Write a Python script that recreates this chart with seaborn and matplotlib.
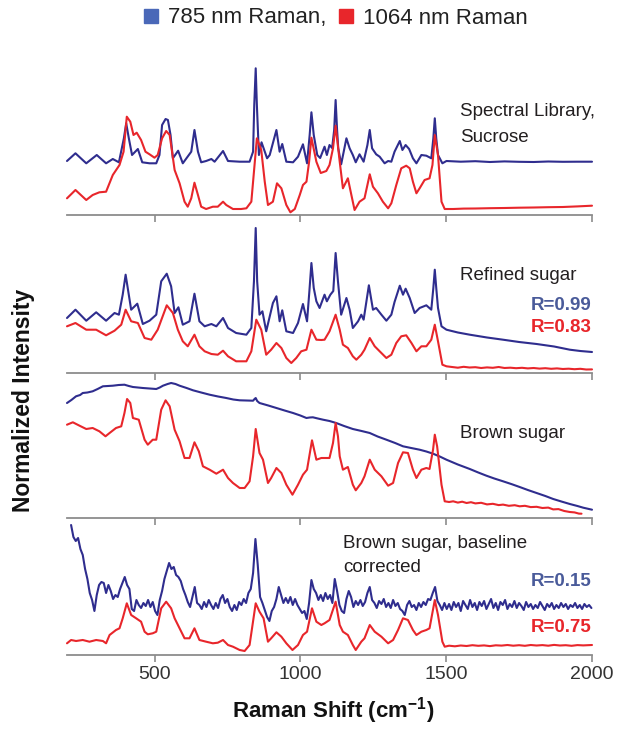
import numpy as np
import pandas as pd
import matplotlib
matplotlib.use("Agg")
import matplotlib.pyplot as plt
import seaborn as sns
from matplotlib.lines import Line2D

# ---------------- data (Raman shift cm-1, intensity a.u.) ----------------
LEGEND_LABELS = ["785 nm Raman,", "1064 nm Raman"]
PANEL_TITLES = [["Spectral Library,", "Sucrose"], ["Refined sugar"], ["Brown sugar"],
                ["Brown sugar, baseline", "corrected"]]
R_785 = [None, "R=0.99", None, "R=0.15"]
R_1064 = [None, "R=0.83", None, "R=0.75"]
XTICKS = [500, 1000, 1500, 2000]

P1_785 = [(200,54),(229,61.7),(266,51.7),(302,60),(334,51.7),(357,56),(378,52.7),(395,76.7),(403,91.7),(412,76.7),(423,60),(443,66),(458,52.7),(483,51.7),(506,51.7),(517,60),(526,90),(538,96),(546,95),(555,80),(563,56.7),(581,64.3),(597,51.7),(626,63.3),(637,85),(649,63.3),(660,52.7),(677,54),(695,56),(706,53.3),(735,64),(752,54),(792,53.3),(826,53.3),(838,63.3),(842,110),(847,146.7),(851,110),(858,60),(867,72.7),(886,56.7),(895,60),(918,85),(929,63.3),(938,71),(952,53.3),(975,52.7),(992,58.3),(1009,70.7),(1023,51.7),(1032,80),(1038,102.7),(1046,80),(1058,60),(1068,57),(1083,68.3),(1091,60),(1100,70),(1109,67),(1116,85),(1121,115),(1126,85),(1130,66.7),(1140,50.7),(1158,76.7),(1169,66.7),(1180,60),(1190,52.7),(1203,60.7),(1217,53.3),(1230,70),(1238,85),(1246,66.7),(1260,60.7),(1272,58.3),(1289,51.7),(1301,54),(1312,53.3),(1323,63.3),(1341,74),(1350,65),(1361,70),(1373,66),(1386,56.7),(1398,51.7),(1415,60),(1432,59.3),(1449,56.7),(1456,76.7),(1461,96.7),(1466,76.7),(1472,60),(1487,51.7),(1501,54),(1550,53.3),(1600,53.8),(1650,53),(1700,53.6),(1750,53.2),(1800,53),(1850,53.5),(1900,53.2),(1950,53.3),(2000,53.3)]

P1_1064 = [(200,16.7),(229,25),(266,15),(288,20),(311,22.7),(334,23.3),(357,40),(380,50),(394,63.3),(405,98.3),(417,93.3),(428,80),(439,82.3),(454,75),(469,63.3),(483,60.7),(500,57.3),(511,60),(526,76.7),(540,84),(552,80),(569,45),(586,31.7),(603,13.3),(614,8.3),(626,16.7),(637,32.3),(649,20),(660,8.3),(677,6),(700,8.3),(717,8.3),(735,13.3),(746,10),(769,6),(797,6),(815,6.7),(832,13.3),(843,50),(851,76.7),(866,65),(878,33.3),(889,10),(906,13.3),(920,31.7),(935,26.7),(952,10),(966,2.7),(981,6),(998,20),(1009,30),(1021,33.3),(1030,53),(1038,77.3),(1055,53.3),(1070,42),(1089,44),(1100,50),(1112,66.7),(1121,89.3),(1135,53.3),(1146,26.7),(1163,36.7),(1175,20),(1186,5),(1203,13.3),(1220,16.7),(1238,40.7),(1249,28.3),(1266,21.7),(1283,13.3),(1301,6.7),(1312,11.7),(1329,30),(1346,46.7),(1363,49.3),(1375,46.7),(1386,33.3),(1398,21.7),(1409,26.7),(1426,35),(1443,36.7),(1453,50),(1461,80),(1472,60),(1484,13.3),(1495,6),(1524,6),(1560,6.4),(1600,6.5),(1650,6.8),(1700,7),(1750,7.3),(1800,7.5),(1850,7.8),(1900,8),(1950,8.6),(2000,9.3)]

P2_785 = [(200,55),(229,63.3),(266,52.3),(300,60.7),(334,52.3),(363,60),(378,58.3),(391,78.3),(401,98.3),(410,81.7),(420,63.3),(441,69.3),(460,49),(483,52.3),(506,58.3),(523,91.7),(542,99.3),(557,86.7),(569,60),(582,65.7),(597,48.3),(620,51.7),(637,79.3),(654,51.7),(672,46.7),(695,49),(712,46.7),(735,55),(752,45),(780,40),(815,38.3),(832,45),(841,91.7),(847,145),(852,91.7),(860,58.3),(870,61.7),(883,41.7),(906,70),(918,76.7),(929,51.7),(938,62.7),(952,41.7),(975,40),(992,50),(1009,69),(1023,51.7),(1031,81.7),(1038,110),(1046,85),(1055,71.7),(1066,65),(1083,78.3),(1091,71.7),(1103,78.3),(1113,82),(1121,120),(1129,91.7),(1140,58.3),(1158,75),(1169,63.3),(1180,45),(1198,51.7),(1209,58.3),(1217,53.3),(1235,87.7),(1249,63.3),(1260,65),(1278,58.3),(1295,52.3),(1312,58.3),(1323,71),(1341,87.3),(1352,78.3),(1361,84.3),(1375,75),(1392,60),(1409,65),(1432,67.7),(1449,63.3),(1456,85),(1461,103.3),(1466,85),(1472,65),(1484,46.7),(1501,43.3),(1540,40.5),(1581,38.3),(1640,35.5),(1695,33.3),(1750,31),(1810,29),(1870,26.5),(1924,23.3),(1960,22),(2000,21)]

P2_1064 = [(200,46.7),(229,50),(266,43.3),(300,43.3),(334,37.7),(363,42.3),(386,48.3),(401,63.3),(420,51.7),(443,50),(466,35),(489,33.3),(511,43.3),(542,67.7),(563,60),(580,43.3),(597,31.7),(614,26.7),(637,38.3),(654,26.7),(672,21.7),(695,19),(717,18.3),(735,22.3),(752,16.7),(780,11.7),(815,11.7),(832,21.7),(849,53.3),(866,43.3),(883,18.3),(900,23.3),(918,30),(935,25),(952,15),(969,10),(986,15),(1003,21.7),(1021,23.3),(1038,43.3),(1055,33.3),(1072,33),(1083,33.3),(1100,41.7),(1121,58.3),(1135,43.3),(1146,28.3),(1163,25),(1180,16.7),(1192,13.3),(1209,18.3),(1220,23.3),(1238,35),(1255,26.7),(1272,21.7),(1295,15),(1312,18.3),(1329,30),(1346,36.7),(1363,37.7),(1381,30),(1398,21.7),(1415,26.7),(1432,26.7),(1449,33.3),(1461,48.3),(1472,31.7),(1487,8.3),(1501,6.7),(1520,6.0),(1540,5.3),(1560,6.2),(1580,5.5),(1600,5.8),(1620,5.0),(1640,5.6),(1660,5.2),(1680,6.0),(1700,5.0),(1720,5.3),(1740,4.8),(1760,5.2),(1780,4.6),(1800,5.0),(1820,4.4),(1840,4.8),(1860,4.2),(1880,4.6),(1900,4.0),(1920,4.3),(1940,3.8),(1960,4.2),(1980,3.5),(2000,3.6)]

P3_785 = [(200,115),(215,118),(231,121.7),(245,123),(254,125),(270,125.5),(288,126.7),(305,129),(323,131.7),(340,132),(357,132.3),(377,133),(397,133.3),(412,132),(426,131),(443,130.5),(460,130),(483,129.5),(506,129),(518,130.5),(529,132.3),(545,134),(557,135),(572,134),(586,132.3),(610,130),(632,127.7),(660,125.5),(689,123.3),(718,121.5),(746,120),(770,118.5),(792,117.7),(815,117.5),(838,117.3),(843,119),(847,120),(852,117),(860,115),(890,112.5),(918,110),(946,107.5),(975,105),(1000,102.5),(1021,100),(1032,100.5),(1043,100.7),(1060,99.5),(1078,98.3),(1100,97),(1123,95),(1150,92),(1180,89),(1210,87),(1238,85),(1265,81.5),(1295,78.3),(1325,75),(1352,71.7),(1380,70),(1409,68.3),(1432,66.5),(1455,64.3),(1478,61.5),(1501,58.3),(1540,53.5),(1581,49),(1610,45.5),(1638,42.3),(1665,39.5),(1695,36.7),(1725,33.8),(1752,31),(1780,28),(1810,25),(1840,22),(1867,19),(1895,16.5),(1924,14),(1950,12),(1970,10.3),(2000,8.3)]

P3_1064 = [(200,93.3),(220,95.7),(243,92.3),(266,89),(288,90),(311,86.7),(332,81.7),(346,85),(368,90),(386,91.7),(397,105),(406,119),(417,115),(426,100),(446,98.3),(466,78.3),(477,73.3),(494,78.3),(506,78.3),(523,108.3),(538,117.7),(552,111.7),(569,88.3),(586,76.7),(603,60),(620,60),(637,75.7),(652,66.7),(666,51.7),(689,48.3),(712,44.3),(735,48.3),(752,40),(769,35),(792,30),(809,30),(826,36.7),(838,61.7),(847,89),(860,65),(872,58.3),(889,35),(900,40),(918,50),(935,45),(952,33.3),(973,23.3),(992,33.3),(1009,43.3),(1023,48.3),(1040,77.7),(1055,58.3),(1072,60),(1100,60),(1112,75),(1121,95),(1129,81.7),(1135,61.7),(1146,48.3),(1163,51),(1180,33.3),(1190,27.7),(1209,35),(1220,41.7),(1238,58.3),(1255,48.3),(1278,41.7),(1301,32.3),(1318,35),(1335,55),(1352,65.7),(1369,65),(1386,48.3),(1398,40),(1415,48.3),(1432,50),(1443,49),(1455,68.3),(1461,83.3),(1469,71.7),(1484,33.3),(1495,16.7),(1510,16.0),(1524,16.7),(1540,15.4),(1555,16.3),(1570,15.0),(1585,15.8),(1600,14.6),(1620,15.2),(1640,13.6),(1660,14.2),(1680,12.9),(1695,13.4),(1715,12.2),(1735,12.8),(1752,11.7),(1770,12.2),(1790,10.9),(1810,11.2),(1830,10.0),(1850,10.4),(1867,8.6),(1885,8.9),(1905,7.0),(1924,6.0),(1940,5.6),(1955,4.4),(1964,4.3)]

P4_785 = [(214,130),(222,118),(230,114),(238,117),(246,106),(254,100),(262,86),(270,76),(278,62),(286,55),(294,44),(302,60),(310,70),(318,73),(326,72),(334,62),(342,70),(350,64),(358,56),(366,60),(374,58),(382,66),(390,72),(398,78),(406,70),(414,66),(422,46),(430,44),(438,55),(446,50),(454,47),(462,52),(470,49),(478,55),(486,48),(494,53),(502,44),(510,40),(518,55),(526,64),(534,76),(542,84),(550,92),(558,86),(566,88),(574,80),(582,78),(590,74),(598,66),(606,60),(614,53),(622,48),(630,58),(638,68),(646,52),(654,50),(662,46),(670,53),(678,48),(686,55),(694,50),(702,46),(710,52),(718,47),(726,56),(734,60),(742,52),(750,56),(758,48),(766,44),(774,50),(782,45),(790,53),(798,50),(806,56),(814,52),(822,62),(830,66),(838,82),(846,116),(854,90),(862,58),(870,52),(878,45),(886,38),(894,34),(902,44),(910,48),(918,56),(926,68),(934,60),(942,52),(950,57),(958,52),(966,58),(974,50),(982,56),(990,50),(998,46),(1006,42),(1014,44),(1022,36),(1030,52),(1038,75),(1046,66),(1054,62),(1062,55),(1070,60),(1078,54),(1086,62),(1094,56),(1102,60),(1110,52),(1118,76),(1126,64),(1134,50),(1142,44),(1150,42),(1158,56),(1166,64),(1174,58),(1182,48),(1190,54),(1198,50),(1206,55),(1214,49),(1222,53),(1230,62),(1238,68),(1246,55),(1254,52),(1262,47),(1270,54),(1278,51),(1286,56),(1294,48),(1302,52),(1310,47),(1318,55),(1326,49),(1334,52),(1342,46),(1350,44),(1358,40),(1366,50),(1374,54),(1382,48),(1390,50),(1398,45),(1406,52),(1414,48),(1422,53),(1430,50),(1438,56),(1446,55),(1454,62),(1462,68),(1470,54),(1478,50),(1486,45),(1494,52),(1502,46),(1510,51),(1518,45),(1526,53),(1534,48),(1542,52),(1550,44),(1558,54),(1566,50),(1574,46),(1582,55),(1590,48),(1598,52),(1606,45),(1614,53),(1622,49),(1630,54),(1638,46),(1646,51),(1654,56),(1662,47),(1670,52),(1678,45),(1686,53),(1694,50),(1702,55),(1710,46),(1718,51),(1726,48),(1734,54),(1742,47),(1750,52),(1758,49),(1766,45),(1774,53),(1782,48),(1790,51),(1798,46),(1806,50),(1814,47),(1822,53),(1830,49),(1838,45),(1846,51),(1854,48),(1862,52),(1870,46),(1878,50),(1886,47),(1894,52),(1902,48),(1910,51),(1918,46),(1926,50),(1934,48),(1942,52),(1950,47),(1958,50),(1966,46),(1974,51),(1982,48),(1990,50),(1998,47)]

P4_1064 = [(200,11.7),(214,15),(231,14),(254,15),(277,13.3),(300,15),(323,14),(334,11.7),(346,20),(368,25),(380,26.7),(391,36.7),(405,51.7),(420,40),(437,36.7),(454,33.3),(466,23.3),(477,20.7),(494,21.7),(506,23.3),(523,46.7),(540,53.3),(557,46.7),(569,36.7),(586,26.7),(603,16.7),(620,16.7),(637,26.7),(654,15),(677,13.3),(700,11.7),(717,12.3),(735,15),(752,10),(769,8.3),(792,5),(809,4),(826,10),(847,51.7),(860,43.3),(874,36.7),(889,13.3),(900,16.7),(918,22.7),(935,18.3),(952,11.7),(973,5),(992,10),(1009,20),(1023,23.3),(1040,46.7),(1055,33.3),(1072,30),(1083,31.7),(1100,35),(1121,53.3),(1135,30),(1146,23.3),(1163,20),(1180,10),(1190,5),(1209,13.3),(1220,16.7),(1238,30),(1255,23.3),(1278,18.3),(1301,11.7),(1318,15),(1335,25),(1352,36.7),(1369,35),(1386,25),(1398,20),(1415,23.3),(1432,25),(1443,26.7),(1461,55),(1472,40),(1487,13.3),(1495,8.3),(1510,9.3),(1530,8.7),(1550,9.5),(1570,9.0),(1590,9.8),(1610,9.2),(1630,9.6),(1650,8.9),(1670,9.7),(1690,9.4),(1710,10.0),(1730,9.3),(1750,9.8),(1770,9.2),(1790,10.0),(1810,9.5),(1830,9.9),(1850,9.3),(1870,10.1),(1890,9.5),(1910,9.8),(1930,9.2),(1950,9.9),(1970,9.6),(2000,10.0)]

SPECTRA_785 = [P1_785, P2_785, P3_785, P4_785]
SPECTRA_1064 = [P1_1064, P2_1064, P3_1064, P4_1064]

# ---------------- styling ----------------
BLUE = "#2f2d8e"
RED = "#e8262b"
LEG_BLUE = "#4a68b8"
R_BLUE = "#4a5b9a"
AXIS_GRAY = "#8c8c8c"
TXT = "#231f20"

sns.set_theme(style="white")
plt.rcParams["font.family"] = ["Liberation Sans", "DejaVu Sans"]
plt.rcParams["mathtext.fontset"] = "custom"
plt.rcParams["mathtext.rm"] = "Liberation Sans"
plt.rcParams["mathtext.bf"] = "Liberation Sans:bold"

W, H = 620, 729
fig = plt.figure(figsize=(W / 100, H / 100), dpi=100)
fig.patch.set_facecolor("white")

panels_px = [(55, 215), (215, 373), (373, 518), (518, 655)]
x_left, x_right = 67, 592

title_pos = [[(460, 112), (460, 137)], [(460, 275)], [(460, 433)], [(343, 544), (343, 567)]]
r_pos = [None, (305, 328), None, (582, 628)]

for i, (top, bot) in enumerate(panels_px):
    ax = fig.add_axes([x_left / W, 1 - bot / H, (x_right - x_left) / W, (bot - top) / H])
    ax.patch.set_alpha(0)
    df_b = pd.DataFrame(SPECTRA_785[i], columns=["shift", "intensity"])
    df_r = pd.DataFrame(SPECTRA_1064[i], columns=["shift", "intensity"])
    sns.lineplot(data=df_b, x="shift", y="intensity", ax=ax, color=BLUE, linewidth=1.5,
                 estimator=None, sort=False)
    sns.lineplot(data=df_r, x="shift", y="intensity", ax=ax, color=RED, linewidth=1.5,
                 estimator=None, sort=False)
    ax.set_xlim(200, 2000)
    ax.set_ylim(0, bot - top)
    ax.set_xlabel("")
    ax.set_ylabel("")
    ax.set_yticks([])
    ax.set_xticks(XTICKS)
    for s in ["top", "left", "right"]:
        ax.spines[s].set_visible(False)
    ax.spines["bottom"].set_color(AXIS_GRAY)
    ax.spines["bottom"].set_linewidth(1.3)
    ax.tick_params(axis="x", direction="out", length=5, width=1.2, color=AXIS_GRAY,
                   labelsize=14, labelcolor="#333333", pad=3, bottom=True,
                   labelbottom=(i == 3))
    for line in ax.get_lines():
        line.set_clip_on(False)

    for txt, (px, py) in zip(PANEL_TITLES[i], title_pos[i]):
        fig.text(px / W, 1 - py / H, txt, ha="left", va="center", fontsize=13.5, color=TXT)
    if R_785[i]:
        y1, y2 = r_pos[i]
        fig.text(592 / W, 1 - y1 / H, R_785[i], ha="right", va="center", fontsize=13.5,
                 fontweight="bold", color=R_BLUE)
        fig.text(592 / W, 1 - y2 / H, R_1064[i], ha="right", va="center", fontsize=13.5,
                 fontweight="bold", color=RED)

fig.text(24 / W, 1 - 400 / H, "Normalized Intensity", rotation=90, ha="center", va="center",
         fontsize=16.5, fontweight="bold", color="#111111")
fig.text(333 / W, 1 - 711 / H, r"Raman Shift (cm$^{\mathbf{-1}}$)", ha="center", va="center",
         fontsize=16, fontweight="bold", color="#111111")

handles = [Line2D([], [], marker="s", ls="none", color=LEG_BLUE, markersize=10),
           Line2D([], [], marker="s", ls="none", color=RED, markersize=10)]
fig.legend(handles, LEGEND_LABELS, loc="center", bbox_to_anchor=(335 / W, 1 - 18 / H),
           ncol=2, frameon=False, fontsize=16, handlelength=0.8, handletextpad=0.35,
           columnspacing=0.5, borderpad=0, borderaxespad=0, labelcolor="#222222")

fig.savefig("out.png", dpi=100, facecolor="white")
